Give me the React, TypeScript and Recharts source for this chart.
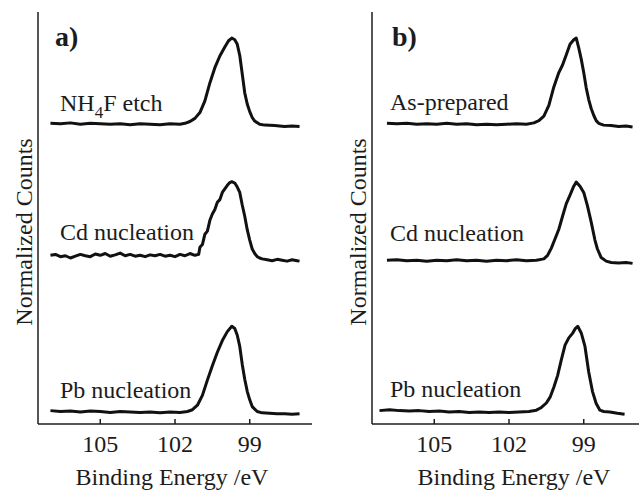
import { LineChart, Line, XAxis, YAxis, Label } from 'recharts'

const FONT = 'Liberation Serif'
const INK = '#1c1c1c'

// x axis / y axis setup shared by both panels
const beDomain = [96.5, 107.5]
const beTicks = [105, 102, 99]
const countDomain = [-0.178, 9]
const countTicks = [0, 1, 2, 3, 4, 5, 6, 7, 8]

// panel a) NH4F etch
const etchBE = [107.0, 106.6, 106.2, 105.8, 105.4, 105.0, 104.6, 104.2, 103.8, 103.4,
    103.0, 102.6, 102.2, 101.8, 101.6, 101.4, 101.2, 101.0, 100.8, 100.6,
    100.4, 100.2, 100.0, 99.85, 99.72, 99.6, 99.5, 99.4, 99.3, 99.2,
    99.1, 99.0, 98.9, 98.8, 98.6, 98.4, 98.0, 97.6, 97.3, 97.0]
const etchCounts = [6.52, 6.51, 6.53, 6.50, 6.52, 6.51, 6.50, 6.51, 6.49, 6.51,
    6.50, 6.49, 6.51, 6.50, 6.52, 6.56, 6.63, 6.76, 7.02, 7.42,
    7.76, 8.02, 8.22, 8.36, 8.42, 8.38, 8.28, 8.03, 7.62, 7.20,
    6.95, 6.78, 6.65, 6.57, 6.50, 6.48, 6.47, 6.45, 6.46, 6.45]

// panel a) Cd nucleation
const cdaBE = [107.0, 106.8, 106.6, 106.4, 106.2, 106.0, 105.8, 105.6, 105.4, 105.2,
    105.0, 104.8, 104.6, 104.4, 104.2, 104.0, 103.8, 103.6, 103.4, 103.2,
    103.0, 102.8, 102.6, 102.4, 102.2, 102.0, 101.8, 101.6, 101.4, 101.2,
    101.05, 101.0, 100.9, 100.8, 100.7, 100.6, 100.5, 100.4, 100.3, 100.2,
    100.1, 100.0, 99.9, 99.8, 99.72, 99.6, 99.5, 99.4, 99.3, 99.2,
    99.1, 99.0, 98.9, 98.8, 98.7, 98.6, 98.5, 98.3, 98.1, 97.9,
    97.7, 97.5, 97.3, 97.1, 97.0]
const cdaCounts = [3.58, 3.60, 3.55, 3.57, 3.52, 3.56, 3.60, 3.57, 3.55, 3.61,
    3.58, 3.62, 3.56, 3.59, 3.63, 3.57, 3.60, 3.56, 3.58, 3.55,
    3.59, 3.57, 3.60, 3.56, 3.58, 3.55, 3.60, 3.57, 3.62, 3.58,
    3.60, 3.76, 3.82, 4.05, 4.12, 4.36, 4.50, 4.60, 4.76, 4.82,
    4.98, 5.06, 5.14, 5.20, 5.22, 5.19, 5.10, 4.98, 4.70, 4.45,
    4.15, 3.92, 3.72, 3.62, 3.55, 3.52, 3.50, 3.48, 3.46, 3.49,
    3.47, 3.45, 3.48, 3.46, 3.45]

// panel a) Pb nucleation
const pbaBE = [107.0, 106.6, 106.2, 105.8, 105.4, 105.0, 104.6, 104.2, 103.8, 103.4,
    103.0, 102.6, 102.2, 101.8, 101.5, 101.3, 101.1, 100.9, 100.7, 100.5,
    100.3, 100.1, 99.9, 99.72, 99.6, 99.5, 99.4, 99.3, 99.2, 99.1,
    99.0, 98.9, 98.7, 98.5, 98.2, 97.9, 97.6, 97.3, 97.0]
const pbaCounts = [0.12, 0.10, 0.11, 0.09, 0.11, 0.10, 0.08, 0.10, 0.09, 0.08,
    0.09, 0.07, 0.09, 0.08, 0.10, 0.14, 0.24, 0.46, 0.80, 1.12,
    1.42, 1.68, 1.88, 2.00, 1.95, 1.80, 1.55, 1.15, 0.82, 0.55,
    0.36, 0.21, 0.10, 0.07, 0.06, 0.05, 0.05, 0.04, 0.05]

// panel b) As-prepared
const asBE = [106.9, 106.5, 106.1, 105.7, 105.3, 104.9, 104.5, 104.1, 103.7, 103.3,
    102.9, 102.5, 102.1, 101.7, 101.3, 101.0, 100.8, 100.6, 100.4, 100.2,
    100.0, 99.85, 99.7, 99.55, 99.4, 99.3, 99.2, 99.1, 99.0, 98.9,
    98.8, 98.7, 98.6, 98.5, 98.4, 98.2, 97.9, 97.6, 97.3, 97.04]
const asCounts = [6.52, 6.51, 6.52, 6.50, 6.51, 6.50, 6.52, 6.50, 6.51, 6.49,
    6.50, 6.49, 6.50, 6.51, 6.50, 6.53, 6.58, 6.68, 6.92, 7.33,
    7.65, 7.82, 8.05, 8.28, 8.38, 8.42, 8.20, 7.95, 7.65, 7.31,
    7.05, 6.85, 6.70, 6.58, 6.52, 6.48, 6.47, 6.45, 6.46, 6.44]

// panel b) Cd nucleation
const cdbBE = [106.9, 106.5, 106.1, 105.7, 105.3, 104.9, 104.5, 104.1, 103.7, 103.3,
    102.9, 102.5, 102.1, 101.7, 101.3, 100.9, 100.6, 100.45, 100.3, 100.15,
    100.0, 99.85, 99.7, 99.55, 99.4, 99.3, 99.15, 99.0, 98.85, 98.7,
    98.55, 98.45, 98.3, 98.1, 97.9, 97.6, 97.3, 97.04]
const cdbCounts = [3.47, 3.48, 3.46, 3.47, 3.45, 3.47, 3.46, 3.48, 3.46, 3.47,
    3.45, 3.47, 3.46, 3.48, 3.46, 3.47, 3.50, 3.58, 3.74, 3.95,
    4.16, 4.45, 4.73, 4.92, 5.12, 5.21, 5.12, 4.98, 4.68, 4.32,
    3.92, 3.72, 3.53, 3.45, 3.42, 3.41, 3.42, 3.40]

// panel b) Pb nucleation
const pbbBE = [107.2, 106.8, 106.4, 106.0, 105.6, 105.2, 104.8, 104.4, 104.0, 103.6,
    103.2, 102.8, 102.4, 102.0, 101.6, 101.2, 100.9, 100.7, 100.5, 100.35,
    100.2, 100.05, 99.9, 99.75, 99.6, 99.45, 99.35, 99.24, 99.1, 98.95,
    98.8, 98.65, 98.5, 98.35, 98.2, 97.95, 97.65, 97.36]
const pbbCounts = [0.12, 0.14, 0.12, 0.11, 0.12, 0.10, 0.11, 0.09, 0.10, 0.08,
    0.09, 0.08, 0.09, 0.08, 0.09, 0.10, 0.13, 0.19, 0.29, 0.42,
    0.64, 0.90, 1.25, 1.58, 1.74, 1.84, 1.94, 2.00, 1.85, 1.55,
    0.98, 0.55, 0.28, 0.13, 0.10, 0.09, 0.06, 0.04]

const zip = (be: number[], counts: number[]) => be.map((x, i) => ({ be: x, counts: counts[i] }))

const YTitle = ({ viewBox }: any) => {
    const x = viewBox.x + 32
    const y = viewBox.y + viewBox.height / 2 + 14
    return (
        <text x={x} y={y} transform={`rotate(-90, ${x}, ${y})`} textAnchor="middle"
            style={{ fontFamily: FONT }} fontSize={24} fill={INK}>
            Normalized Counts
        </text>
    )
}

interface PanelProps {
    left: number
    titleDx: number
    series: { be: number; counts: number }[][]
}

function Panel({ left, titleDx, series }: PanelProps) {
    const axisStyle = { stroke: INK, strokeWidth: 1.5 }
    return (
        <div style={{ position: 'absolute', left, top: 0 }}>
            <LineChart width={314} height={491} margin={{ top: 12, right: 2, bottom: 0, left: 0 }}>
                <XAxis
                    type="number"
                    dataKey="be"
                    domain={beDomain}
                    ticks={beTicks}
                    reversed
                    allowDataOverflow
                    height={67}
                    tickSize={-5}
                    tickMargin={16}
                    axisLine={axisStyle}
                    tickLine={axisStyle}
                    tick={{ fill: INK, fontSize: 24, style: { fontFamily: FONT } }}
                >
                    <Label value="Binding Energy /eV" position="insideBottom" offset={6} dx={titleDx}
                        style={{ fill: INK, fontSize: 24, fontFamily: FONT }} />
                </XAxis>
                <XAxis
                    xAxisId="top"
                    orientation="top"
                    type="number"
                    dataKey="be"
                    domain={beDomain}
                    reversed
                    height={0}
                    tick={false}
                    tickLine={false}
                    axisLine={axisStyle}
                />
                <YAxis
                    type="number"
                    domain={countDomain}
                    ticks={countTicks}
                    allowDataOverflow
                    width={38}
                    tickSize={-5}
                    tick={false}
                    axisLine={axisStyle}
                    tickLine={axisStyle}
                >
                    <Label content={YTitle} />
                </YAxis>
                <YAxis
                    yAxisId="right"
                    orientation="right"
                    type="number"
                    domain={countDomain}
                    width={0}
                    tick={false}
                    tickLine={false}
                    axisLine={axisStyle}
                />
                {series.map((d, i) => (
                    <Line
                        key={i}
                        data={d}
                        dataKey="counts"
                        type="linear"
                        stroke="#111"
                        strokeWidth={3}
                        strokeLinejoin="round"
                        dot={false}
                        isAnimationActive={false}
                    />
                ))}
            </LineChart>
        </div>
    )
}

export default function App() {
    const txt = { style: { fontFamily: FONT }, fontSize: 24, fill: INK }
    return (
        <div style={{ position: 'absolute', left: 0, top: 0, width: 639, height: 491, overflow: 'hidden', background: '#fff', fontFamily: FONT }}>
            <Panel left={0} titleDx={-3} series={[zip(etchBE, etchCounts), zip(cdaBE, cdaCounts), zip(pbaBE, pbaCounts)]} />
            <Panel left={334} titleDx={5} series={[zip(asBE, asCounts), zip(cdbBE, cdbCounts), zip(pbbBE, pbbCounts)]} />
            <svg width={639} height={491} style={{ position: 'absolute', left: 0, top: 0, pointerEvents: 'none' }}>
                <text x={55} y={46} {...txt} fontSize={28} fontWeight="bold">a)</text>
                <text x={60} y={111} {...txt}>NH<tspan dy={7} fontSize={17}>4</tspan><tspan dy={-7}>F etch</tspan></text>
                <text x={60} y={240} {...txt}>Cd nucleation</text>
                <text x={60} y={398} {...txt}>Pb nucleation</text>
                <text x={392} y={46} {...txt} fontSize={28} fontWeight="bold">b)</text>
                <text x={390} y={110} {...txt}>As-prepared</text>
                <text x={390} y={241} {...txt}>Cd nucleation</text>
                <text x={390} y={397} {...txt}>Pb nucleation</text>
            </svg>
        </div>
    )
}
